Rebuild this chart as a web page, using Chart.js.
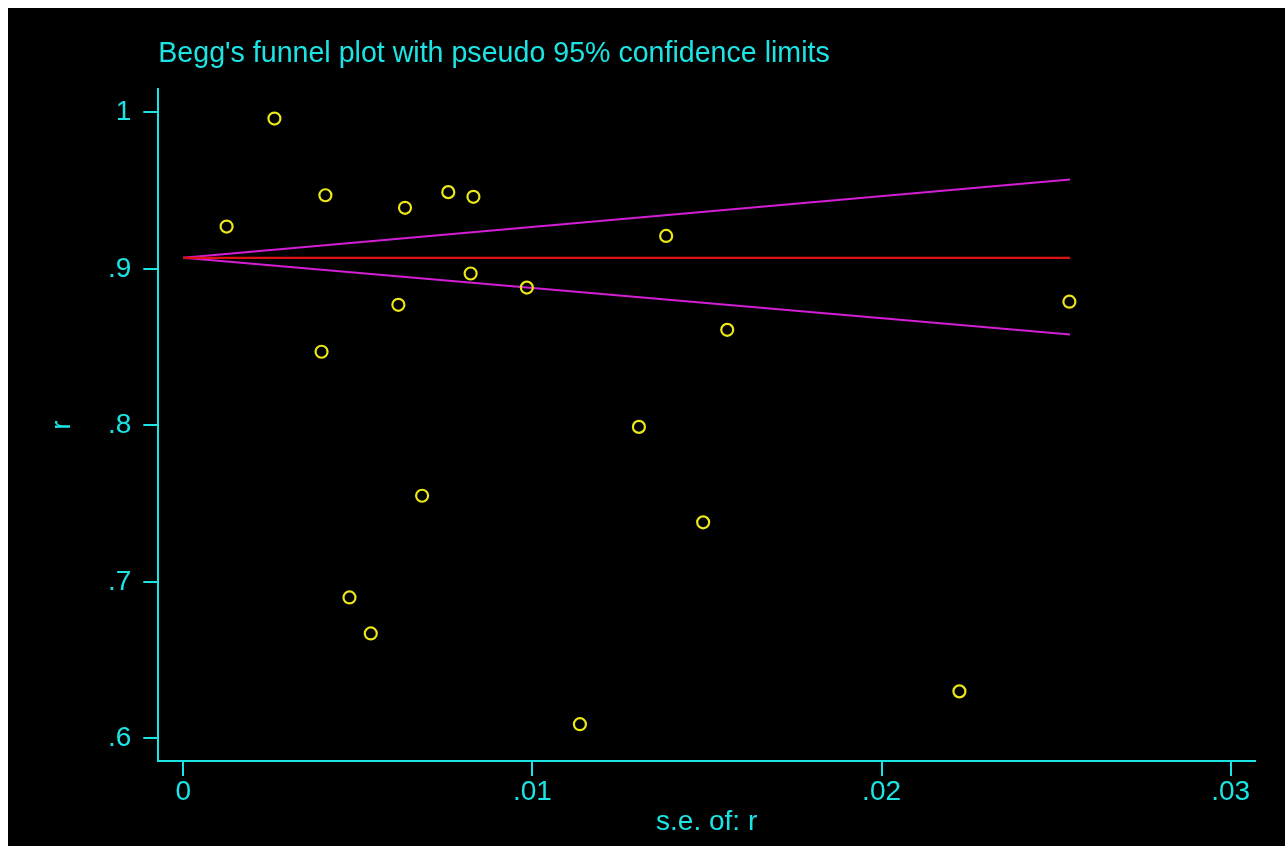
<!DOCTYPE html>
<html>
<head>
<meta charset="utf-8">
<script src="https://cdn.jsdelivr.net/npm/chart.js@4.4.1/dist/chart.umd.min.js"></script>
<style>
  html, body { margin: 0; padding: 0; background: #ffffff; }
  canvas { display: block; }
</style>
</head>
<body>
<canvas id="funnel" width="1288" height="854"></canvas>
<script>
// Standard error of r for each study (x) and the study's r (y)
const studySE = [0.00124, 0.00261, 0.00407, 0.00396, 0.00476, 0.00537, 0.00616, 0.00635, 0.00684, 0.00759,
                 0.00831, 0.00823, 0.00984, 0.01136, 0.01305, 0.01383, 0.01489, 0.01558, 0.02223, 0.02538];
const studyR  = [0.927, 0.996, 0.947, 0.847, 0.690, 0.667, 0.877, 0.939, 0.755, 0.949,
                 0.946, 0.897, 0.888, 0.609, 0.799, 0.921, 0.738, 0.861, 0.630, 0.879];

// Pooled estimate and pseudo 95% limits, from s.e. 0 to the largest s.e.
const limitSE    = [0, 0.0254];
const pooledR    = [0.907, 0.907];
const upperLimit = [0.907, 0.957];
const lowerLimit = [0.907, 0.858];

// Axis ticks
const xTickValues = [0, 0.01, 0.02, 0.03];
const xTickLabels = ['0', '.01', '.02', '.03'];
const yTickValues = [0.6, 0.7, 0.8, 0.9, 1];
const yTickLabels = ['.6', '.7', '.8', '.9', '1'];

const CYAN = 'rgb(28,228,228)';
const YELLOW = 'rgb(236,232,24)';
const RED = 'rgb(222,18,18)';
const MAGENTA = 'rgb(212,30,212)';
const FONT = '"Liberation Sans", Arial, sans-serif';

const toXY = (xs, ys) => xs.map((x, i) => ({ x: x, y: ys[i] }));

// Black plot region inside a thin white frame
const frame = {
  id: 'frame',
  beforeDraw(chart) {
    const ctx = chart.ctx;
    ctx.save();
    ctx.fillStyle = '#ffffff';
    ctx.fillRect(0, 0, chart.width, chart.height);
    ctx.fillStyle = '#000000';
    ctx.fillRect(8, 8, chart.width - 11, chart.height - 16);
    ctx.restore();
  }
};

new Chart(document.getElementById('funnel'), {
  type: 'scatter',
  data: {
    datasets: [
      {
        label: 'r',
        data: toXY(studySE, studyR),
        showLine: false,
        pointStyle: 'circle',
        pointRadius: 6,
        pointBorderWidth: 2.2,
        pointBorderColor: YELLOW,
        pointBackgroundColor: 'rgba(0,0,0,0)'
      },
      {
        label: 'pooled',
        data: toXY(limitSE, pooledR),
        showLine: true,
        borderColor: RED,
        borderWidth: 2.2,
        pointRadius: 0
      },
      {
        label: 'upper',
        data: toXY(limitSE, upperLimit),
        showLine: true,
        borderColor: MAGENTA,
        borderWidth: 2,
        pointRadius: 0
      },
      {
        label: 'lower',
        data: toXY(limitSE, lowerLimit),
        showLine: true,
        borderColor: MAGENTA,
        borderWidth: 2,
        pointRadius: 0
      }
    ]
  },
  options: {
    responsive: false,
    animation: false,
    devicePixelRatio: 1,
    layout: { padding: { left: 0, top: 0, right: 33, bottom: 0 } },
    plugins: {
      legend: { display: false },
      tooltip: { enabled: false },
      title: {
        display: true,
        text: "Begg's funnel plot with pseudo 95% confidence limits",
        color: CYAN,
        align: 'start',
        fullSize: false,
        font: { family: FONT, size: 28.6, weight: 'normal' },
        padding: { top: 37, bottom: 18 }
      }
    },
    scales: {
      x: {
        type: 'linear',
        min: -0.000716,
        max: 0.030696,
        afterFit(scale) { scale.height = 93; },
        afterBuildTicks(scale) { scale.ticks = xTickValues.map(v => ({ value: v })); },
        border: { display: true, color: CYAN, width: 2 },
        grid: { drawOnChartArea: false, drawTicks: true, color: CYAN, lineWidth: 2, tickLength: 15 },
        ticks: {
          color: CYAN,
          padding: -1,
          maxRotation: 0,
          font: { family: FONT, size: 28 },
          callback: (v) => xTickLabels[xTickValues.findIndex(t => Math.abs(t - v) < 1e-9)]
        },
        title: {
          display: true,
          text: 's.e. of: r',
          color: CYAN,
          font: { family: FONT, size: 28 },
          padding: { top: 0, bottom: 15 }
        }
      },
      y: {
        type: 'linear',
        min: 0.5855,
        max: 1.0147,
        afterFit(scale) { scale.width = 158.3; },
        afterBuildTicks(scale) { scale.ticks = yTickValues.map(v => ({ value: v })); },
        border: { display: true, color: CYAN, width: 2 },
        grid: { drawOnChartArea: false, drawTicks: true, color: CYAN, lineWidth: 2, tickLength: 15 },
        ticks: {
          color: CYAN,
          padding: 12,
          font: { family: FONT, size: 28 },
          callback: (v) => yTickLabels[yTickValues.findIndex(t => Math.abs(t - v) < 1e-9)]
        },
        title: {
          display: true,
          text: 'r',
          color: CYAN,
          font: { family: FONT, size: 28 },
          padding: { top: 45, bottom: 0 }
        }
      }
    }
  },
  plugins: [frame]
});
</script>
</body>
</html>
